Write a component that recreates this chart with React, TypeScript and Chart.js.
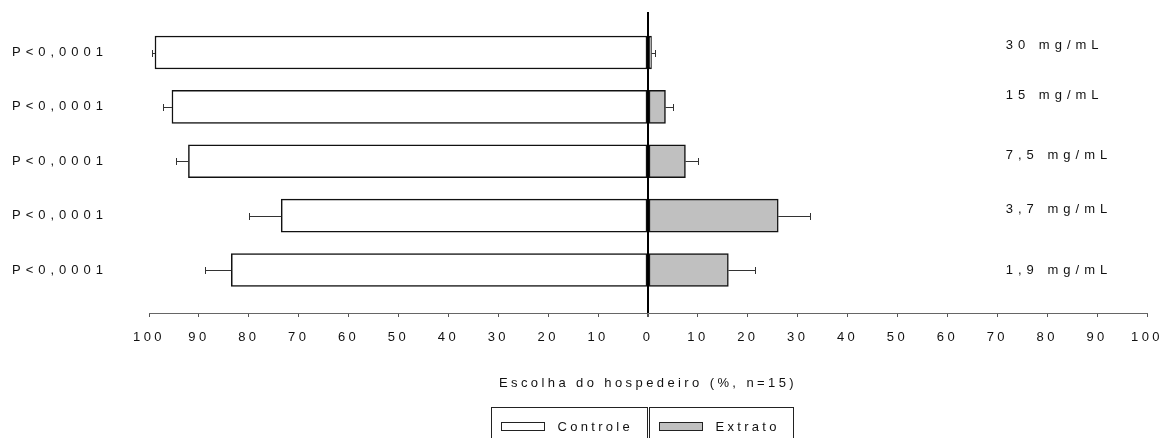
import React, { useEffect, useRef } from 'react';
import { Chart, registerables } from 'chart.js';

Chart.register(...registerables);

const concentrations = ['30 mg/mL', '15 mg/mL', '7,5 mg/mL', '3,7 mg/mL', '1,9 mg/mL'];
const pValues = ['P<0,0001', 'P<0,0001', 'P<0,0001', 'P<0,0001', 'P<0,0001'];
const controle = [98.8, 95.4, 92.1, 73.5, 83.5];
const controleErr = [0.6, 1.7, 2.5, 6.5, 5.3];
const extrato = [0.7, 3.5, 7.5, 26.1, 16.1];
const extratoErr = [0.7, 1.5, 2.5, 6.4, 5.3];
const seriesNames = ['Controle', 'Extrato'];
const axisMin = -100;
const axisMax = 100;
const axisStep = 10;
const axisTitle = 'Escolha do hospedeiro (%, n=15)';

const FONT = '"Liberation Sans", Arial, sans-serif';
const fillColors = ['#ffffff', '#c0c0c0'];

const spacingPlugin = {
  id: 'spacing',
  beforeDraw(chart: any) {
    (chart.ctx as any).letterSpacing = '3.4px';
  },
  afterDraw(chart: any) {
    (chart.ctx as any).letterSpacing = '0px';
  },
};

const errorBarPlugin = {
  id: 'errorBars',
  afterDatasetsDraw(chart: any) {
    const ctx = chart.ctx;
    const xs = chart.scales.x;
    const ys = chart.scales.y;
    const sets = [
      { vals: controle, errs: controleErr, sign: -1 },
      { vals: extrato, errs: extratoErr, sign: 1 },
    ];
    ctx.save();
    ctx.strokeStyle = '#333';
    ctx.lineWidth = 1;
    sets.forEach((s) => {
      s.vals.forEach((v, i) => {
        const y = Math.round(ys.getPixelForValue(i)) + 0.5;
        const x0 = xs.getPixelForValue(s.sign * v);
        const x1 = Math.round(xs.getPixelForValue(s.sign * (v + s.errs[i]))) + 0.5;
        ctx.beginPath();
        ctx.moveTo(x0, y);
        ctx.lineTo(x1, y);
        ctx.moveTo(x1, y - 3.5);
        ctx.lineTo(x1, y + 3.5);
        ctx.stroke();
      });
    });
    ctx.restore();
  },
};

const labelOffsets = [-7.5, -11.5, -6, -6.5, 0];

const textPlugin = {
  id: 'sideTexts',
  afterDraw(chart: any) {
    const ctx = chart.ctx;
    const xs = chart.scales.x;
    const ys = chart.scales.y;
    ctx.save();
    ctx.font = `13px ${FONT}`;
    ctx.fillStyle = '#111';
    ctx.textBaseline = 'middle';
    ctx.textAlign = 'left';
    (ctx as any).letterSpacing = '5px';
    pValues.forEach((t, i) => {
      ctx.fillText(t, 12, ys.getPixelForValue(i));
    });
    const rx = xs.getPixelForValue(71.7);
    concentrations.forEach((t, i) => {
      ctx.fillText(t, rx, ys.getPixelForValue(i) + labelOffsets[i]);
    });

    // legend
    (ctx as any).letterSpacing = '3.3px';
    const zeroX = xs.getPixelForValue(0);
    const top = chart.chartArea.bottom + 94.5;
    const bottom = chart.height + 2;
    const widths = seriesNames.map((n) => 10 + 44 + 12 + ctx.measureText(n).width + 14);
    const lefts = [Math.round(zeroX - 1 - widths[0]) + 0.5, Math.round(zeroX + 1) + 0.5];
    ctx.strokeStyle = '#222';
    ctx.lineWidth = 1;
    seriesNames.forEach((n, i) => {
      const l = lefts[i];
      ctx.strokeRect(l, top, Math.round(widths[i]), bottom - top);
      const sy = top + 15;
      ctx.fillStyle = fillColors[i];
      ctx.fillRect(l + 10, sy, 43, 8);
      ctx.strokeStyle = '#222';
      ctx.strokeRect(l + 10, sy, 43, 8);
      ctx.fillStyle = '#111';
      ctx.fillText(n, l + 10 + 44 + 12, sy + 4.5);
    });
    ctx.restore();
  },
};

export default function App() {
  const ref = useRef<HTMLCanvasElement>(null);
  useEffect(() => {
    if (!ref.current) return;
    Chart.defaults.font.family = FONT;
    Chart.defaults.font.size = 13;
    Chart.defaults.color = '#111';
    const chart = new Chart(ref.current, {
      type: 'bar',
      data: {
        datasets: [
          {
            label: seriesNames[0],
            data: controle.map((v, i) => ({ x: -v, y: i })),
            backgroundColor: fillColors[0],
            borderColor: '#111',
            borderWidth: 1.5,
            borderSkipped: false,
            barThickness: 33,
            grouped: false,
          },
          {
            label: seriesNames[1],
            data: extrato.map((v, i) => ({ x: v, y: i })),
            backgroundColor: fillColors[1],
            borderColor: '#111',
            borderWidth: 1.5,
            borderSkipped: false,
            barThickness: 33,
            grouped: false,
          },
        ],
      },
      options: {
        indexAxis: 'y',
        animation: false,
        responsive: true,
        maintainAspectRatio: false,
        layout: { padding: { left: 149, right: 17, top: 12, bottom: 0 } },
        plugins: { legend: { display: false }, tooltip: { enabled: false } },
        scales: {
          x: {
            type: 'linear',
            min: axisMin,
            max: axisMax,
            offset: false,
            afterFit: (scale: any) => {
              scale.height = 125;
            },
            ticks: {
              stepSize: axisStep,
              padding: 3,
              color: '#111',
              autoSkip: false,
              maxRotation: 0,
              font: { size: 13, lineHeight: 2.7 },
              callback: (v: any) => String(Math.abs(Number(v))),
            },
            grid: {
              z: 1,
              color: (c: any) => (c.tick && c.tick.value === 0 ? '#000' : 'rgba(0,0,0,0)'),
              lineWidth: (c: any) => (c.tick && c.tick.value === 0 ? 2 : 1),
              tickColor: '#555',
              tickLength: 4,
              drawTicks: true,
            },
            border: { display: true, color: '#666', width: 1, z: 1 },
            title: {
              display: true,
              text: axisTitle,
              color: '#111',
              font: { size: 13 },
              padding: { top: 0, bottom: 47 },
            },
          },
          y: {
            type: 'linear',
            min: -0.745,
            max: 4.79,
            reverse: true,
            offset: false,
            display: false,
          },
        },
      },
      plugins: [spacingPlugin, errorBarPlugin, textPlugin],
    } as any);
    return () => chart.destroy();
  }, []);
  return (
    <div style={{ position: 'fixed', left: 0, top: 0, width: 1164, height: 438, background: '#fff' }}>
      <canvas ref={ref} />
    </div>
  );
}
